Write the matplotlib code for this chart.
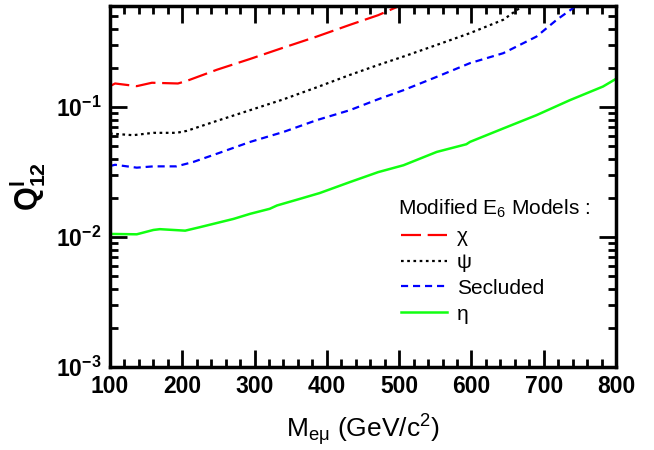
import matplotlib
matplotlib.use("Agg")
import matplotlib.pyplot as plt
from matplotlib.ticker import FixedLocator, LogLocator, NullFormatter, MultipleLocator

plt.rcParams['font.family'] = ['Liberation Sans', 'DejaVu Sans']
plt.rcParams['mathtext.fontset'] = 'custom'
plt.rcParams['mathtext.rm'] = 'Liberation Sans'
plt.rcParams['mathtext.it'] = 'Liberation Sans:italic'
plt.rcParams['mathtext.bf'] = 'Liberation Sans:bold'

# ---- data ----
chi_x = [100, 107, 137, 158, 194, 206, 248, 294, 340, 386, 432, 471, 500]
chi_y = [0.145, 0.152, 0.145, 0.154, 0.152, 0.159, 0.194, 0.235, 0.287, 0.349, 0.43, 0.51, 0.60]

psi_x = [100, 132, 160, 192, 206, 248, 294, 340, 386, 432, 471, 506, 552, 598, 644, 667, 676]
psi_y = [0.0626, 0.0608, 0.0634, 0.0634, 0.0656, 0.0784, 0.0948, 0.1148, 0.142, 0.177, 0.211,
         0.245, 0.301, 0.371, 0.47, 0.58, 0.62]

sec_x = [100, 107, 137, 160, 192, 215, 248, 294, 340, 386, 432, 471, 506, 552, 598, 644, 690, 718, 741, 748]
sec_y = [0.0352, 0.036, 0.0342, 0.035, 0.035, 0.0378, 0.0438, 0.054, 0.0644, 0.0794, 0.0948, 0.115,
         0.135, 0.171, 0.218, 0.260, 0.349, 0.47, 0.58, 0.62]

eta_x = [100, 137, 160, 169, 204, 224, 271, 294, 321, 331, 363, 390, 432, 471, 506, 552, 593, 598,
         644, 690, 736, 782, 800]
eta_y = [0.01057, 0.0105, 0.01134, 0.0115, 0.0112, 0.0119, 0.0138, 0.0151, 0.0165, 0.0175, 0.0197,
         0.0218, 0.0265, 0.0316, 0.0357, 0.0452, 0.0518, 0.054, 0.0685, 0.0867, 0.113, 0.144, 0.165]

labels = ['χ', 'ψ', 'Secluded', 'η']
legend_title = r'Modified E$_{6}$ Models :'
x_ticks = [100, 200, 300, 400, 500, 600, 700, 800]
y_ticks = [1e-3, 1e-2, 1e-1]
y_tick_labels = [r'$\mathbf{10^{-3}}$', r'$\mathbf{10^{-2}}$', r'$\mathbf{10^{-1}}$']

fig = plt.figure(figsize=(6.54, 4.5), dpi=100)
ax = fig.add_axes([110/654, 83/450, 506/654, 361/450])

ax.plot(chi_x, chi_y, color='#ff0000', lw=1.6, dashes=(9, 3), label=labels[0])
ax.plot(psi_x, psi_y, color='black', lw=1.6, dashes=(1.2, 1.6), label=labels[1])
ax.plot(sec_x, sec_y, color='#0000ff', lw=1.6, dashes=(3.2, 2.2), label=labels[2])
ax.plot(eta_x, eta_y, color='#11ff11', lw=1.8, label=labels[3])

ax.set_yscale('log')
ax.set_xlim(100, 800)
ax.set_ylim(1e-3, 0.6)

ax.xaxis.set_major_locator(FixedLocator(x_ticks))
ax.xaxis.set_minor_locator(MultipleLocator(20))
ax.set_xticklabels([str(t) for t in x_ticks], fontsize=16.5, fontweight='bold')

ax.yaxis.set_major_locator(FixedLocator(y_ticks))
ax.yaxis.set_minor_locator(LogLocator(base=10, subs=range(2, 10)))
ax.yaxis.set_minor_formatter(NullFormatter())
ax.set_yticklabels(y_tick_labels, fontsize=16.5)

ax.tick_params(which='both', direction='in', top=True, right=True, width=2)
ax.tick_params(which='major', length=12, pad=6)
ax.tick_params(which='minor', length=6)
for s in ax.spines.values():
    s.set_linewidth(2.5)

ax.set_xlabel(r'M$_{\mathrm{e\mu}}$ (GeV/c$^{2}$)', fontsize=19, labelpad=10)
ax.set_ylabel(r'$\mathbf{Q^{l}_{12}}$', fontsize=22, labelpad=6)

fig.text(398/654, 1 - 215/450, legend_title, fontsize=15, ha='left', va='baseline')
leg = ax.legend(loc='upper left', bbox_to_anchor=(401/654, 1 - 227/450), bbox_transform=fig.transFigure,
                frameon=False, fontsize=15, handlelength=2.2, handletextpad=0.48,
                labelspacing=0.33, borderpad=0, borderaxespad=0)

fig.savefig('out.png', dpi=100)
